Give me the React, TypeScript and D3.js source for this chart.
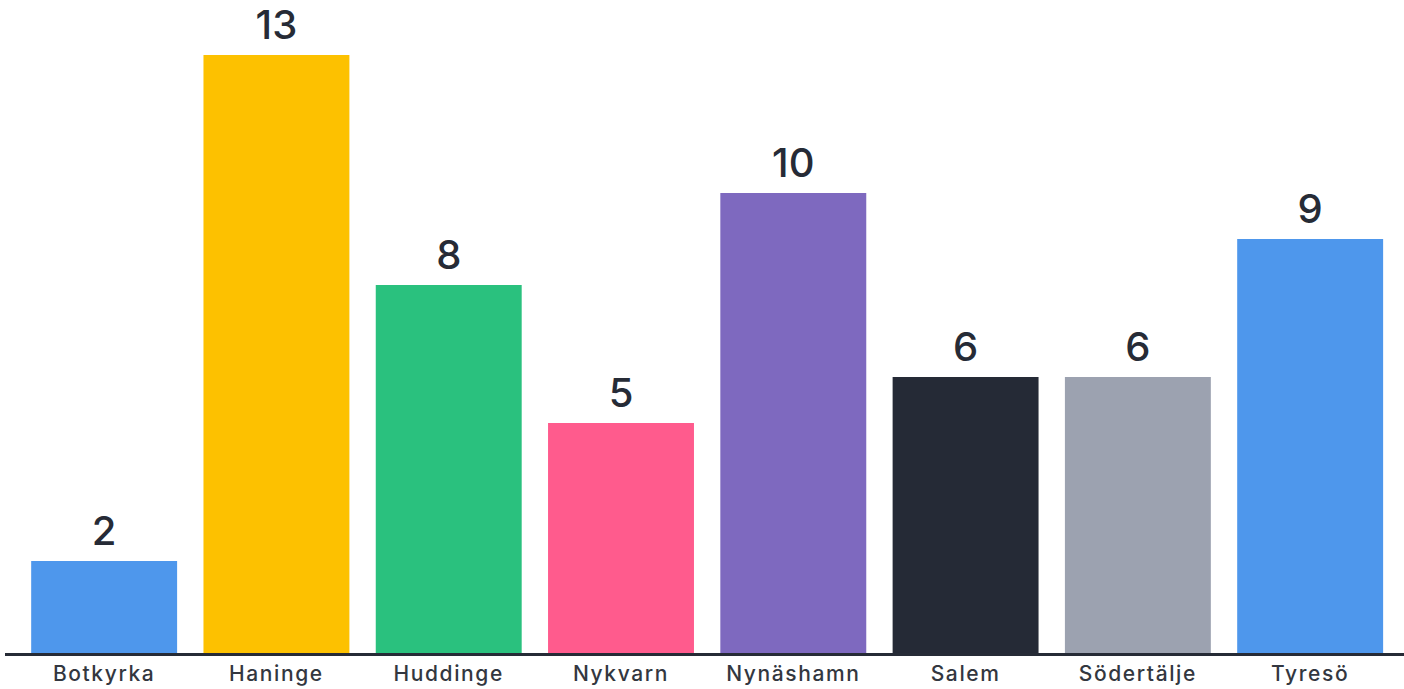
import React from "react";
import * as d3 from "d3";

const categories = ["Botkyrka", "Haninge", "Huddinge", "Nykvarn", "Nynäshamn", "Salem", "Södertälje", "Tyresö"];
const values = [2, 13, 8, 5, 10, 6, 6, 9];
const colors = ["#4e97ec", "#fdc100", "#2ac17e", "#ff5b8d", "#7e69bf", "#252a36", "#9ca2b0", "#4e97ec"];

const W = 1404;
const H = 689;
const baseY = 653;
const topY = 55;

export default function App() {
  const x = d3.scaleBand<string>().domain(categories).range([18, 1396.3]).paddingInner(0.153).paddingOuter(0.0765);
  const y = d3.scaleLinear().domain([0, 13]).range([baseY, topY]);
  const font = "Inter, 'Noto Sans', sans-serif";
  return (
    <svg width={W} height={H} style={{ position: "absolute", left: 0, top: 0, background: "#fff" }}>
      {categories.map((c, i) => (
        <g key={c}>
          <rect x={x(c)} y={y(values[i])} width={x.bandwidth()} height={baseY - y(values[i])} fill={colors[i]} />
          <text x={(x(c) as number) + x.bandwidth() / 2} y={y(values[i]) - 16} textAnchor="middle" fontFamily={font} fontSize={40} fontWeight={500} fill="#262b36">
            {values[i]}
          </text>
          <text x={(x(c) as number) + x.bandwidth() / 2} y={681} textAnchor="middle" fontFamily={font} fontSize={21} fontWeight={500} fill="#333740" letterSpacing={1.6}>
            {c}
          </text>
        </g>
      ))}
      <line x1={5} x2={W} y1={654.5} y2={654.5} stroke="#262b36" strokeWidth={3} />
    </svg>
  );
}
